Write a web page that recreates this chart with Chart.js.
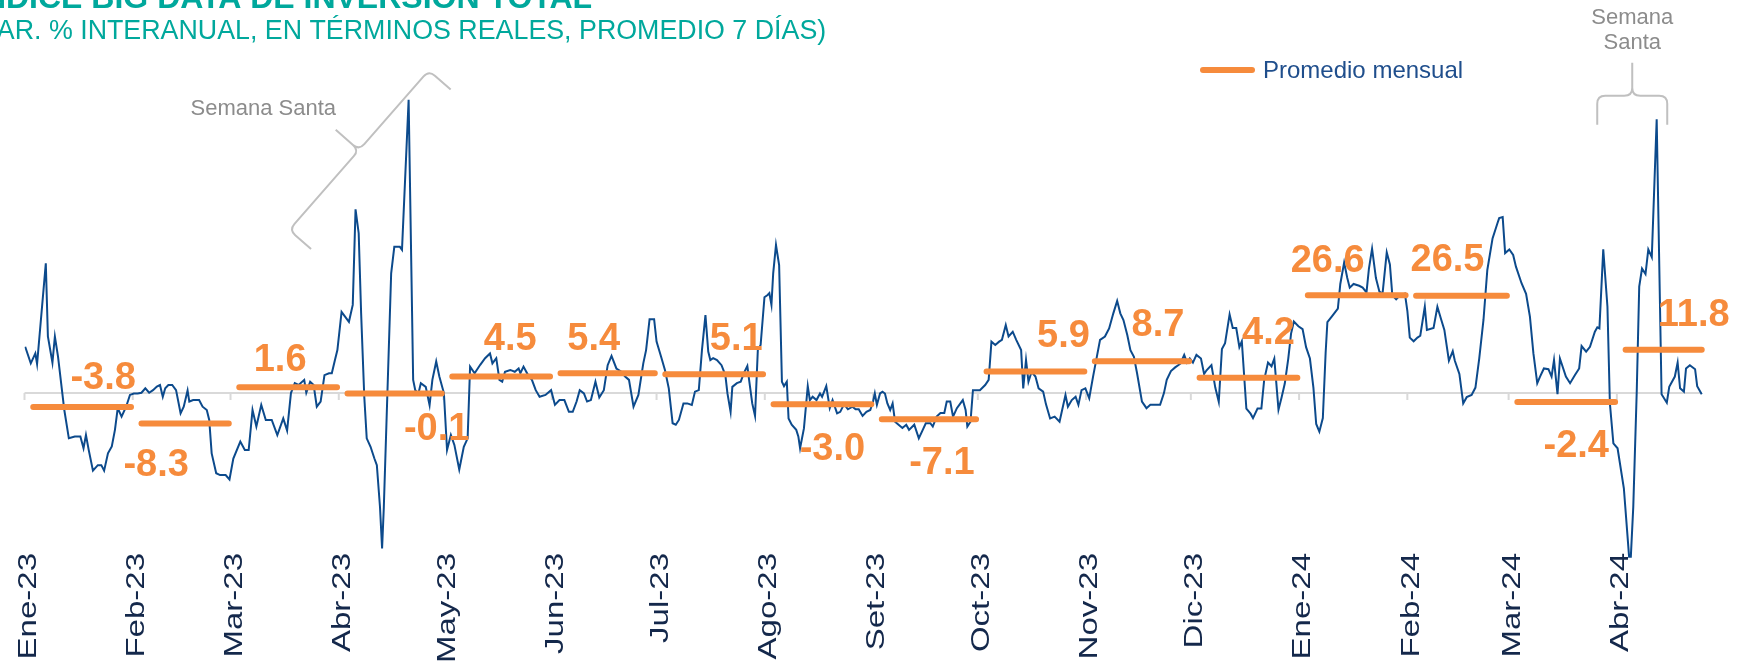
<!DOCTYPE html>
<html lang="es">
<head>
<meta charset="utf-8">
<title>Índice Big Data de Inversión Total</title>
<script src="https://cdn.jsdelivr.net/npm/chart.js@4.4.1/dist/chart.umd.min.js"></script>
<style>
  html, body { margin: 0; padding: 0; background: #fff; overflow: hidden; }
  #contenedor { position: relative; width: 1746px; height: 662px; }
</style>
</head>
<body>
<div id="contenedor"><canvas id="graficoInversion"></canvas></div>
<script>
// Día (desde el 1 de enero de 2023) de cada observación diaria
const dias = [
  0.2, 1.8, 3.1, 3.6, 6.1, 6.7, 8.0, 8.7, 9.6, 11.4,
  12.7, 14.4, 16.0, 16.9, 17.6, 18.4, 19.6, 21.0, 22.0, 22.8,
  23.9, 25.0, 25.9, 26.7, 27.8, 29.1, 30.2, 31.3, 32.4, 33.5,
  34.6, 35.7, 36.8, 37.9, 38.8, 39.6, 40.3, 41.2, 42.3, 43.4,
  44.7, 45.6, 46.7, 47.2, 48.3, 50.0, 51.0, 52.2, 52.9, 53.6,
  54.9, 56.0, 57.6, 58.7, 59.8, 61.8, 63.1, 64.2, 65.3, 66.4,
  67.8, 69.1, 70.8, 72.4, 74.1, 75.2, 76.3, 77.4, 78.5, 80.1,
  80.7, 81.8, 82.8, 83.7, 84.8, 85.9, 87.2, 88.0, 88.9, 89.6,
  90.8, 91.8, 92.9, 94.0, 94.8, 95.7, 96.4, 97.3, 98.0, 99.1,
  100.2, 100.9, 101.8, 102.4, 102.9, 105.0, 105.9, 107.5, 108.1, 110.0,
  111.3, 111.9, 112.8, 113.5, 114.9, 116.0, 116.8, 117.9, 118.8, 120.1,
  121.0, 122.1, 123.1, 124.5, 125.8, 126.9, 127.6, 128.9, 130.5, 131.9,
  133.3, 134.0, 135.1, 136.0, 136.8, 137.6, 139.1, 140.4, 141.5, 142.0,
  142.9, 144.2, 145.3, 146.4, 147.5, 149.2, 150.8, 151.9, 153.2, 154.6,
  155.9, 157.0, 158.1, 159.0, 160.2, 161.1, 162.2, 163.5, 164.6, 165.9,
  167.0, 168.1, 169.5, 170.9, 172.0, 173.1, 174.4, 175.8, 177.2, 178.0,
  179.0, 180.3, 181.0, 182.3, 183.4, 184.5, 185.6, 186.5, 187.4, 188.7,
  189.8, 191.1, 192.0, 193.1, 194.0, 195.0, 195.8, 196.4, 197.2, 198.3,
  199.6, 200.7, 201.3, 202.2, 202.7, 204.0, 205.1, 206.0, 207.0, 207.5,
  208.4, 209.2, 210.0, 210.8, 211.9, 212.8, 213.3, 213.9, 214.4, 215.2,
  216.1, 216.9, 217.5, 218.3, 218.8, 219.7, 221.0, 221.6, 222.1, 223.2,
  224.3, 224.9, 225.7, 226.8, 227.8, 228.4, 229.6, 230.6, 231.4, 232.7,
  233.6, 234.7, 235.8, 237.1, 238.0, 238.9, 240.0, 241.1, 242.2, 243.0,
  243.5, 244.1, 245.0, 245.7, 246.4, 247.1, 247.9, 248.6, 249.3, 250.3,
  251.4, 252.5, 253.3, 254.8, 256.1, 257.0, 258.1, 259.4, 260.1, 261.2,
  262.3, 263.4, 264.1, 265.1, 265.9, 267.0, 268.7, 269.5, 270.0, 270.9,
  271.6, 273.6, 275.1, 276.1, 276.9, 278.0, 279.1, 279.9, 281.0, 281.8,
  283.0, 284.0, 285.4, 286.0, 286.8, 287.5, 288.4, 289.5, 290.4, 291.7,
  292.5, 293.7, 295.0, 296.4, 298.1, 298.8, 299.9, 301.0, 301.8, 302.7,
  303.8, 304.9, 306.0, 308.0, 309.4, 310.6, 311.8, 312.9, 313.8, 314.7,
  315.8, 316.7, 317.7, 318.6, 320.0, 321.3, 322.4, 324.0, 325.2, 326.3,
  327.1, 328.3, 329.5, 331.0, 332.1, 332.9, 333.7, 334.6, 335.6, 336.9,
  337.8, 338.5, 339.9, 341.0, 342.0, 342.9, 343.8, 345.1, 346.0, 347.0,
  347.9, 348.6, 349.9, 351.1, 351.8, 353.1, 354.2, 355.0, 356.1, 357.1,
  357.9, 359.1, 360.0, 360.9, 361.9, 362.7, 363.5, 364.8, 366.0, 367.0,
  368.1, 369.1, 369.9, 370.8, 371.8, 372.6, 373.1, 374.4, 376.1, 376.8,
  377.9, 378.8, 379.5, 380.6, 382.2, 383.2, 384.3, 385.0, 385.9, 387.0,
  388.0, 388.9, 390.1, 391.0, 391.7, 392.8, 393.9, 395.3, 396.0, 396.7,
  397.8, 398.9, 399.7, 401.0, 401.6, 403.5, 404.6, 405.6, 406.6, 407.9,
  409.0, 409.6, 410.9, 412.0, 413.0, 414.4, 415.5, 416.6, 417.8, 418.9,
  420.4, 421.8, 422.3, 423.3, 424.0, 425.2, 426.3, 427.1, 428.7, 430.0,
  431.1, 432.1, 433.2, 434.0, 435.1, 436.4, 437.3, 438.0, 439.0, 439.7,
  441.4, 442.6, 444.0, 445.2, 445.9, 447.2, 448.3, 449.7, 450.4, 451.0,
  452.1, 453.3, 454.0, 455.0, 456.2, 458.0, 459.5, 460.0, 460.7, 461.7,
  462.4, 463.2, 464.2, 465.0, 466.0, 467.4, 468.8, 470.3, 471.0, 472.6,
  473.4, 474.1, 475.2, 475.8, 476.9, 478.4, 479.0, 480.3
];

// Var. % interanual del índice (promedio móvil de 7 días)
const indice = [
  12.6, 8.1, 10.8, 7.9, 35.3, 15.4, 8.3, 15.4, 9.9, -4.6,
  -12.3, -11.8, -11.8, -15.0, -11.4, -15.5, -21.1, -19.6, -19.6, -21.1,
  -16.4, -14.5, -10.0, -4.1, -6.4, -3.7, -0.5, -0.1, -0.1, 0.1,
  1.3, 0.1, 0.8, 1.8, 2.2, -1.0, 1.3, 2.2, 2.2, 0.8,
  -5.5, -3.7, 0.7, -2.3, -1.9, -1.9, -3.7, -4.6, -7.3, -16.4,
  -21.8, -22.3, -22.3, -23.5, -17.8, -13.2, -15.5, -15.5, -4.6, -9.1,
  -3.2, -7.3, -7.3, -11.4, -6.9, -10.2, 0.0, 2.7, 2.2, 3.6,
  0.1, 3.1, 2.2, -3.7, -2.3, 4.9, 5.4, 5.4, 9.0, 11.7,
  22.1, 20.8, 19.4, 24.0, 50.0, 43.5, 21.7, -1.0, -12.3, -14.6,
  -17.8, -19.6, -31.0, -42.3, -31.0, 32.6, 39.8, 39.8, 39.0, 79.8,
  3.6, 0.8, -0.1, 2.7, 1.7, -3.3, 3.6, 8.6, 4.5, 0.0,
  -15.5, -11.4, -14.1, -20.8, -14.6, -12.3, 7.2, 5.4, 7.7, 9.5,
  10.8, 8.1, 9.5, 3.6, 3.1, 5.8, 6.3, 5.8, 6.7, 5.4,
  7.2, 4.9, 3.6, 0.8, -1.0, -0.5, 0.8, -3.2, -1.9, -1.9,
  -5.1, -5.1, -2.3, 0.8, -0.1, -2.3, -1.9, 3.1, -1.2, 0.8,
  7.6, 10.1, 6.7, 5.8, 4.5, 3.6, -3.7, -0.5, 8.1, 11.7,
  20.1, 20.1, 14.0, 9.9, 6.3, 1.3, -8.2, -8.6, -7.3, -2.8,
  -2.8, -3.2, 0.4, 0.8, 11.7, 21.2, 11.3, 9.0, 9.5, 9.0,
  7.6, 4.9, -0.1, -5.1, 1.7, 2.7, 3.1, 5.4, 7.4, 3.6,
  -2.8, -6.2, 11.7, 13.1, 26.1, 26.7, 27.2, 24.0, 32.6, 40.3,
  34.8, 3.1, 1.9, 3.1, -6.9, -8.6, -10.0, -11.8, -15.0, -9.6,
  1.9, -1.9, -1.0, -1.9, -0.1, -1.0, 1.9, -4.1, -1.9, -5.5,
  -5.1, -3.0, -4.4, -3.7, -4.4, -4.4, -6.2, -5.1, -4.6, -2.3,
  -0.1, -3.2, -0.1, 0.4, -0.1, -2.8, -4.6, -2.8, -7.8, -8.6,
  -9.5, -8.6, -10.0, -8.6, -12.3, -10.5, -8.2, -8.2, -9.1, -6.4,
  -5.4, -5.4, -2.3, -2.3, -6.4, -4.1, -1.9, -4.6, -9.1, -7.8,
  0.8, 0.8, 2.2, 3.6, 14.0, 13.1, 14.0, 14.5, 18.5, 15.4,
  16.7, 14.5, 11.7, 1.3, 9.0, 3.1, 5.8, 4.5, 1.3, 0.4,
  -3.0, -6.9, -6.4, -7.8, -0.5, -3.7, -1.9, -1.0, -3.2, 0.8,
  1.3, -1.4, 4.5, 14.5, 15.4, 17.6, 21.7, 25.1, 21.7, 19.9,
  15.8, 11.7, 9.9, 5.4, -2.3, -4.1, -3.2, -3.2, -3.2, 0.0,
  3.6, 6.0, 7.0, 8.0, 10.4, 8.3, 9.4, 8.3, 10.4, 9.4,
  5.2, 6.2, 7.6, 1.5, -2.4, 12.0, 13.6, 21.4, 17.7, 17.7,
  12.5, 14.1, -4.2, -5.6, -6.8, -4.2, -4.2, 3.6, 8.3, 7.3,
  9.4, -4.5, -1.1, 2.6, 9.4, 16.2, 19.5, 18.2, 17.4, 12.5,
  9.4, 1.5, -8.4, -10.5, -6.8, 11.0, 19.3, 20.9, 23.0, 29.7,
  35.5, 31.3, 28.7, 29.7, 29.2, 28.7, 27.4, 33.9, 39.3, 31.3,
  27.6, 27.1, 38.3, 35.0, 26.6, 25.5, 26.6, 27.1, 22.4, 15.1,
  14.1, 15.1, 15.6, 23.5, 17.2, 17.7, 23.5, 20.3, 17.2, 8.8,
  11.4, 8.8, 5.2, -2.8, -1.1, -0.5, 1.5, 9.5, 19.9, 33.5,
  42.1, 46.2, 47.6, 47.9, 38.1, 39.1, 37.6, 34.4, 29.9, 27.0,
  20.8, 10.8, 2.7, 4.5, 6.7, 6.5, 4.5, 9.0, -0.3, 9.4,
  4.5, 2.7, 4.9, 6.7, 12.8, 11.3, 12.6, 16.7, 17.9, 17.6,
  39.1, 23.5, -2.8, -13.7, -15.0, -25.9, -44.5, -44.5, -30.9, 0.8,
  29.0, 33.9, 32.4, 39.1, 37.0, 74.5, -0.3, -2.6, 1.7, 4.5,
  8.3, 1.3, 0.4, 6.7, 7.6, 6.5, 1.9, -0.3
];

// Meses del eje y día en que comienza cada uno
const etiquetasMes = ['Ene-23', 'Feb-23', 'Mar-23', 'Abr-23', 'May-23', 'Jun-23', 'Jul-23', 'Ago-23',
  'Set-23', 'Oct-23', 'Nov-23', 'Dic-23', 'Ene-24', 'Feb-24', 'Mar-24', 'Abr-24'];
const inicioMes = [0, 31, 59, 90, 120, 151, 181, 212, 243, 273, 304, 334, 365, 396, 425, 456];

// Promedio mensual de la variación
const promedioMensual = [-3.8, -8.3, 1.6, -0.1, 4.5, 5.4, 5.1, -3.0, -7.1, 5.9, 8.7, 4.2, 26.6, 26.5, -2.4, 11.8];

// Desplazamiento (px) de cada etiqueta respecto al centro de su tramo
const etiquetaDx = [21, -29, -8, 42, 9, -14, 22, 10, 13, 28, 16, 20, -29, -14, 10, 30];
const etiquetaDy = [-32, 39, -30, 33, -40, -37, -38, 42, 41, -38, -39, -47, -37, -38, 42, -37];

const AZUL = '#0c4a8c';
const NARANJA = '#f68b3c';
const TEAL = '#00a89c';
const GRIS = '#8c8c8c';
const FUENTE = '"Liberation Sans", Arial, Helvetica, sans-serif';

const ultimoDia = dias[dias.length - 1];

// Cada promedio se dibuja como un tramo horizontal dentro de su mes
const tramos = promedioMensual.map((v, i) => {
  const ini = inicioMes[i] + 2.5;
  const fin = i + 1 < inicioMes.length ? inicioMes[i + 1] - 0.5 : ultimoDia;
  return [ini, fin];
});
const datosPromedio = [];
promedioMensual.forEach((v, i) => {
  datosPromedio.push({ x: tramos[i][0], y: v }, { x: tramos[i][1], y: v }, { x: tramos[i][1] + 0.2, y: null });
});

function llave(ctx, cx, cy, angulo, media, brazo, punta) {
  // llave con la punta hacia -y local y los extremos hacia +y
  ctx.save();
  ctx.translate(cx, cy);
  ctx.rotate(angulo);
  ctx.beginPath();
  [-1, 1].forEach(s => {
    ctx.moveTo(s * media, brazo);
    ctx.lineTo(s * media, 8);
    ctx.quadraticCurveTo(s * media, 0, s * (media - 8), 0);
    ctx.lineTo(s * 8, 0);
    ctx.quadraticCurveTo(0, 0, 0, -8);
    ctx.lineTo(0, -punta);
  });
  ctx.stroke();
  ctx.restore();
}

const decoraciones = {
  id: 'decoraciones',
  beforeDatasetsDraw(chart) {
    const { ctx, scales: { x, y } } = chart;
    const y0 = y.getPixelForValue(0);
    ctx.save();
    ctx.strokeStyle = '#d9d9d9';
    ctx.lineWidth = 2;
    ctx.beginPath();
    ctx.moveTo(x.getPixelForValue(0), y0);
    ctx.lineTo(x.getPixelForValue(ultimoDia), y0);
    inicioMes.forEach(d => {
      const px = x.getPixelForValue(d);
      ctx.moveTo(px, y0);
      ctx.lineTo(px, y0 + 7);
    });
    ctx.stroke();
    ctx.restore();
  },
  afterDatasetsDraw(chart) {
    const { ctx, scales: { x, y } } = chart;
    ctx.save();

    // valores del promedio mensual
    ctx.font = 'bold 38px ' + FUENTE;
    ctx.fillStyle = NARANJA;
    ctx.textAlign = 'center';
    ctx.textBaseline = 'alphabetic';
    promedioMensual.forEach((v, i) => {
      const px = x.getPixelForValue((tramos[i][0] + tramos[i][1]) / 2) + etiquetaDx[i];
      const py = y.getPixelForValue(v) + etiquetaDy[i];
      ctx.fillText(v.toFixed(1), px, py + 13.5);
    });

    // meses, en vertical al pie del gráfico (texto algo alargado)
    ctx.font = '26px ' + FUENTE;
    ctx.fillStyle = '#14284b';
    ctx.textAlign = 'right';
    etiquetasMes.forEach((t, i) => {
      const px = x.getPixelForValue(inicioMes[i]);
      ctx.save();
      ctx.translate(px + 11.3, 553);
      ctx.rotate(-Math.PI / 2);
      ctx.scale(1.27, 1);
      ctx.fillText(t, 0, 0);
      ctx.restore();
    });

    // Semana Santa 2023 y 2024
    ctx.strokeStyle = '#c0c0c0';
    ctx.lineWidth = 2;
    const a1x = x.getPixelForValue(95.8), a1y = y.getPixelForValue(66.1);
    llave(ctx, a1x, a1y, Math.atan2(-160, 140), 106, 29, 31);
    const a2x = x.getPixelForValue(460.4), a2y = y.getPixelForValue(80.9);
    llave(ctx, a2x, a2y, 0, 35, 29, 33);

    ctx.font = '22px ' + FUENTE;
    ctx.fillStyle = GRIS;
    ctx.textAlign = 'right';
    ctx.fillText('Semana Santa', a1x - 23, a1y - 35);
    ctx.textAlign = 'center';
    ctx.fillText('Semana', a2x, a2y - 72);
    ctx.fillText('Santa', a2x, a2y - 47);

    // leyenda
    ctx.strokeStyle = NARANJA;
    ctx.lineWidth = 6;
    ctx.lineCap = 'round';
    ctx.beginPath();
    ctx.moveTo(1203, 70);
    ctx.lineTo(1252, 70);
    ctx.stroke();
    ctx.font = '24px ' + FUENTE;
    ctx.fillStyle = '#1f4e8c';
    ctx.textAlign = 'left';
    ctx.fillText('Promedio mensual', 1263, 78);

    // título
    ctx.fillStyle = TEAL;
    ctx.font = 'bold 32px ' + FUENTE;
    ctx.fillText('ÍNDICE BIG DATA DE INVERSIÓN TOTAL', -26, 7.5);
    ctx.font = '26.8px ' + FUENTE;
    ctx.fillText('(VAR. % INTERANUAL, EN TÉRMINOS REALES, PROMEDIO 7 DÍAS)', -28, 39.3);

    ctx.restore();
  }
};

const ctx = document.getElementById('graficoInversion').getContext('2d');
const grafico = new Chart(ctx, {
  type: 'line',
  data: {
    datasets: [{
      label: 'Índice Big Data de Inversión Total',
      data: dias.map((d, i) => ({ x: d, y: indice[i] })),
      borderColor: AZUL,
      borderWidth: 2,
      pointRadius: 0,
      tension: 0,
      order: 2
    }, {
      label: 'Promedio mensual',
      data: datosPromedio,
      borderColor: NARANJA,
      borderWidth: 6,
      borderCapStyle: 'round',
      pointRadius: 0,
      spanGaps: false,
      order: 1
    }]
  },
  options: {
    responsive: true,
    maintainAspectRatio: false,
    animation: false,
    layout: {
      padding: { left: 24.5, right: 10.4, top: 25.6, bottom: 85.15 }
    },
    scales: {
      x: { type: 'linear', min: 0, max: 490, display: false },
      y: { min: -50, max: 100, display: false }
    },
    plugins: {
      legend: { display: false },
      tooltip: { enabled: false }
    }
  },
  plugins: [decoraciones]
});
</script>
</body>
</html>
